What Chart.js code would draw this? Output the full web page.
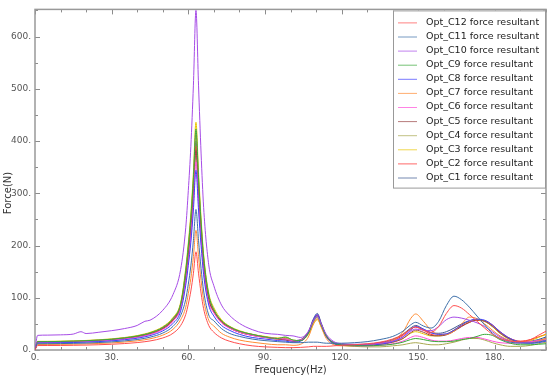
<!DOCTYPE html>
<html>
<head>
<meta charset="utf-8">
<script src="https://cdn.jsdelivr.net/npm/chart.js@4"></script>
<style>
  html, body { margin: 0; padding: 0; background: #fff; }
</style>
</head>
<body>
<canvas id="forceChart" width="552" height="377"></canvas>
<script>
// Frequencies (Hz)
const freq = [0, 1, 5, 10, 15, 18, 20, 25, 30, 35, 40, 43, 45, 50, 54, 57, 59, 60, 61, 62, 63, 64, 65, 66, 68, 70, 73, 76, 80, 85, 90,
    95, 98, 101, 104, 107, 109, 110.5, 112, 114, 117, 120, 125, 130, 135, 140, 144, 147, 149, 152, 155, 158, 161, 164, 167, 170, 173, 176, 179, 182, 186, 190, 194, 197, 200];

const xTicks = [0, 30, 60, 90, 120, 150, 180];
const yTicks = [0, 100, 200, 300, 400, 500, 600];

// Force resultant (N) per configuration
const c12 = [0, 8.5, 8.6, 8.7, 9, 9.3, 9.4, 10.1, 11, 12.3, 14.2, 15.9, 17.3, 23, 32, 46.8, 68, 88, 113, 147, 188, 147, 109, 79, 47, 34, 23, 17, 12, 8, 6,
    5, 4.5, 4.5, 5, 6, 7, 7, 7, 7, 8, 9, 10, 12, 15, 21, 30, 40, 44, 38, 34, 45, 70, 85, 80, 68, 55, 42, 30, 22, 17, 16, 20, 28, 36];
const c11 = [0, 12, 12.1, 12.3, 12.7, 13.1, 13.3, 14.3, 15.5, 17.4, 20, 22.4, 24.5, 32.4, 45.2, 66, 97, 126, 161, 210, 269, 210, 156, 113, 67, 56, 41, 32, 26, 21, 18,
    16, 15, 14, 14, 15, 15, 15, 14, 13, 13, 13, 14, 16, 20, 26, 36, 48, 53, 46, 42, 55, 85, 103, 96, 82, 65, 48, 32, 22, 15, 13, 13, 15, 18];
const c10 = [0, 28, 28.5, 29, 30.5, 35, 31.5, 34, 37, 41, 47, 55, 57, 76, 106, 154, 234, 305, 390, 507, 650, 507, 377, 273, 163, 123, 86, 67, 51, 39, 32,
    30, 28, 27, 24, 36, 56, 64, 50, 30, 16, 12, 11, 11, 13, 17, 25, 36, 40, 38, 37, 45, 58, 63, 61, 57, 52, 45, 35, 25, 17, 14, 14, 16, 19];
const c9 = [0, 16, 16.1, 16.4, 17, 17.4, 17.8, 19, 20.6, 23.2, 26.7, 29.9, 32.6, 43.2, 60.3, 88, 152, 199, 254, 330, 423, 330, 245, 178, 106, 77, 56, 45, 36, 30, 25,
    22, 25, 19, 18, 32, 55, 64, 48, 27, 13, 10, 8, 8, 9, 11, 15, 20, 22, 20, 17, 16, 16, 17, 20, 22, 26, 30, 28, 20, 13, 10, 10, 11, 12];
const c8 = [0, 13.5, 13.6, 13.9, 14.3, 14.7, 15, 16.1, 17.4, 19.6, 22.5, 25.2, 27.5, 36.5, 50.9, 74.3, 124, 162, 206, 268, 344, 268, 200, 144, 86, 65, 47, 38, 30, 24, 21,
    18, 17, 15, 17, 33, 58, 68, 50, 26, 12, 10, 9, 9, 11, 16, 25, 38, 45, 40, 33, 30, 31, 38, 48, 56, 59, 57, 48, 35, 22, 15, 13, 14, 17];
const c7 = [0, 10.5, 10.6, 10.8, 11.1, 11.4, 11.7, 12.5, 13.5, 15.2, 17.5, 19.6, 21.4, 28.4, 39.6, 57.8, 82, 108, 137, 179, 229, 179, 133, 96, 57, 46, 32, 25, 19, 15, 12,
    10, 10, 9, 11, 25, 50, 60, 44, 22, 10, 8, 8, 9, 12, 18, 34, 60, 69, 55, 38, 30, 30, 36, 50, 63, 60, 50, 38, 27, 18, 14, 14, 17, 22];
const c6 = [0, 14.5, 14.6, 14.9, 15.4, 15.8, 16.1, 17.3, 18.7, 21, 24.2, 27.1, 29.6, 39.2, 54.7, 79.8, 130, 169, 216, 281, 360, 281, 209, 151, 90, 71, 52, 42, 34, 28, 24,
    22, 21, 18, 19, 33, 56, 65, 48, 26, 13, 10, 8, 8, 9, 12, 17, 24, 27, 24, 19, 17, 17, 19, 22, 24, 24, 21, 17, 14, 13, 14, 16, 18, 20];
const c5 = [0, 15, 15.1, 15.4, 15.9, 16.4, 16.7, 17.9, 19.4, 21.8, 25, 28, 30.6, 40.5, 56.6, 82.5, 138, 180, 229, 298, 382, 298, 222, 160, 96, 73, 53, 43, 34, 28, 24,
    21, 19, 17, 19, 34, 57, 66, 49, 27, 13, 10, 9, 9, 11, 15, 22, 33, 38, 34, 28, 27, 29, 36, 45, 53, 57, 55, 46, 33, 21, 15, 15, 18, 22];
const c4 = [0, 16, 16.1, 16.4, 17, 17.4, 17.8, 19, 20.6, 23.2, 26.7, 29.9, 32.6, 43.2, 60.3, 88, 149, 195, 248, 323, 414, 323, 240, 174, 104, 77, 56, 45, 36, 30, 25,
    22, 23, 18, 18, 32, 54, 62, 47, 26, 13, 9, 7, 6, 6, 8, 10, 13, 14, 12, 10, 10, 12, 15, 19, 22, 22, 19, 14, 10, 7, 7, 9, 12, 15];
const c3 = [0, 16.5, 16.6, 16.9, 17.5, 18, 18.3, 19.6, 21.3, 23.9, 27.6, 30.9, 33.7, 44.6, 62.2, 90.8, 157, 205, 262, 340, 436, 340, 253, 183, 109, 81, 58, 46, 37, 30, 26,
    23, 24, 19, 18, 30, 50, 58, 45, 25, 13, 10, 9, 9, 11, 15, 22, 32, 35, 31, 27, 27, 30, 38, 48, 55, 58, 55, 45, 32, 21, 16, 18, 24, 30];
const c2 = [0, 15.3, 15.4, 15.7, 16.2, 16.7, 17, 18.2, 19.7, 22.2, 25.6, 28.6, 31.2, 41.3, 57.7, 84.2, 141, 184, 235, 305, 391, 305, 227, 164, 98, 74, 54, 43, 34, 28.5, 24.5,
    21, 22, 17, 19, 33, 57, 67, 50, 27, 13, 10, 9, 10, 13, 18, 28, 40, 44, 38, 30, 28, 30, 38, 46, 53, 57, 56, 48, 35, 22, 17, 20, 25, 30];
const c1 = [0, 15.5, 15.6, 15.9, 16.4, 16.9, 17.2, 18.4, 20, 22.5, 25.9, 29, 31.6, 41.9, 58.4, 85.3, 144, 188, 240, 312, 400, 312, 232, 168, 100, 75, 55, 44, 35, 29, 25,
    22, 20, 18, 20, 35, 60, 70, 52, 28, 14, 11, 10, 11, 14, 20, 30, 42, 47, 40, 33, 32, 35, 42, 50, 56, 58, 55, 45, 32, 20, 16, 17, 20, 25];

const seriesNames = ['Opt_C12 force resultant', 'Opt_C11 force resultant', 'Opt_C10 force resultant', 'Opt_C9 force resultant',
    'Opt_C8 force resultant', 'Opt_C7 force resultant', 'Opt_C6 force resultant', 'Opt_C5 force resultant',
    'Opt_C4 force resultant', 'Opt_C3 force resultant', 'Opt_C2 force resultant', 'Opt_C1 force resultant'];
const seriesValues = [c12, c11, c10, c9, c8, c7, c6, c5, c4, c3, c2, c1];
const seriesColors = ['#ff4d4d', '#3d6fa8', '#a64ce6', '#3aa83a', '#4040ff', '#ff8c33',
    '#ff4fd8', '#9a4545', '#a8a850', '#e8c400', '#ff2a2a', '#3b5590'];

Chart.defaults.font.family = 'DejaVu Sans';

// рамка з внутрішніми рисками + підпис осі Y
const frameTicks = {
    id: 'frameTicks',
    beforeDatasetsDraw(chart) {
        const {ctx, chartArea: a, scales: {x, y}} = chart;
        ctx.save();
        ctx.strokeStyle = '#8c8c8c';
        ctx.lineWidth = 1;
        ctx.beginPath();
        for (let v = 0; v <= 200; v += 10) {
            const px = Math.round(x.getPixelForValue(v)) + 0.5;
            const len = v % 30 === 0 ? 5 : 3;
            ctx.moveTo(px, a.bottom); ctx.lineTo(px, a.bottom - len);
            ctx.moveTo(px, a.top); ctx.lineTo(px, a.top + len);
        }
        for (let v = 0; v <= 650; v += 50) {
            const py = Math.round(y.getPixelForValue(v)) + 0.5;
            const len = v % 100 === 0 ? 5 : 3;
            ctx.moveTo(a.left, py); ctx.lineTo(a.left + len, py);
            ctx.moveTo(a.right, py); ctx.lineTo(a.right - len, py);
        }
        ctx.stroke();
        ctx.lineWidth = 1.5;
        ctx.strokeStyle = '#999';
        ctx.strokeRect(a.left, a.top, a.right - a.left, a.bottom - a.top);

        ctx.translate(8, 193);
        ctx.rotate(-Math.PI / 2);
        ctx.fillStyle = '#333';
        ctx.font = '10px "DejaVu Sans"';
        ctx.textAlign = 'center';
        ctx.textBaseline = 'middle';
        ctx.fillText('Force(N)', 0, 0);
        ctx.restore();
    }
};

// легенда в рамці у правому верхньому куті
const boxLegend = {
    id: 'boxLegend',
    afterDraw(chart) {
        const {ctx, chartArea: a} = chart;
        const w = 152, rowH = 14.1;
        const left = a.right - w - 1, top = a.top + 1;
        const h = rowH * seriesNames.length + 8;
        ctx.save();
        ctx.fillStyle = '#fff';
        ctx.fillRect(left, top, w, h);
        ctx.strokeStyle = '#999';
        ctx.lineWidth = 1;
        ctx.strokeRect(left + 0.5, top + 0.5, w, h);
        ctx.font = '9.5px "DejaVu Sans"';
        ctx.textBaseline = 'middle';
        chart.data.datasets.forEach((ds, i) => {
            const cy = top + 12 + i * rowH;
            ctx.globalAlpha = 0.7;
            ctx.strokeStyle = ds.borderColor;
            ctx.beginPath();
            ctx.moveTo(left + 5, cy + 0.5);
            ctx.lineTo(left + 24, cy + 0.5);
            ctx.stroke();
            ctx.globalAlpha = 1;
            ctx.fillStyle = '#222';
            ctx.fillText(ds.label, left + 33, cy);
        });
        ctx.restore();
    }
};

const datasets = seriesValues.map((vals, i) => ({
    label: seriesNames[i],
    data: vals.map((v, k) => ({x: freq[k], y: v})),
    borderColor: seriesColors[i],
    borderWidth: 1,
    pointRadius: 0,
    cubicInterpolationMode: 'monotone',
    fill: false
}));

const config = {
    type: 'line',
    data: {datasets: datasets},
    options: {
        responsive: false,
        animation: false,
        layout: {padding: {top: 3, right: 6, left: 0, bottom: 0}},
        plugins: {
            legend: {display: false},
            tooltip: {enabled: false}
        },
        scales: {
            x: {
                type: 'linear',
                min: 0,
                max: 200,
                afterBuildTicks: (axis) => { axis.ticks = xTicks.map(v => ({value: v})); },
                afterFit: (axis) => { axis.height = 27; },
                grid: {display: false, drawTicks: false},
                border: {display: false},
                ticks: {
                    padding: 2,
                    color: '#555',
                    font: {size: 9},
                    maxRotation: 0,
                    callback: (v) => v + '.'
                },
                title: {
                    display: true,
                    text: 'Frequency(Hz)',
                    color: '#333',
                    font: {size: 10},
                    padding: {top: 0, bottom: 1}
                }
            },
            y: {
                min: 0,
                max: 652,
                afterBuildTicks: (axis) => { axis.ticks = yTicks.map(v => ({value: v})); },
                afterFit: (axis) => { axis.width = 35; },
                grid: {display: false, drawTicks: false},
                border: {display: false},
                ticks: {
                    padding: 4,
                    color: '#555',
                    font: {size: 9},
                    callback: (v) => v + '.'
                }
            }
        }
    },
    plugins: [frameTicks, boxLegend]
};

const ctx = document.getElementById('forceChart').getContext('2d');
new Chart(ctx, config);
</script>
</body>
</html>
